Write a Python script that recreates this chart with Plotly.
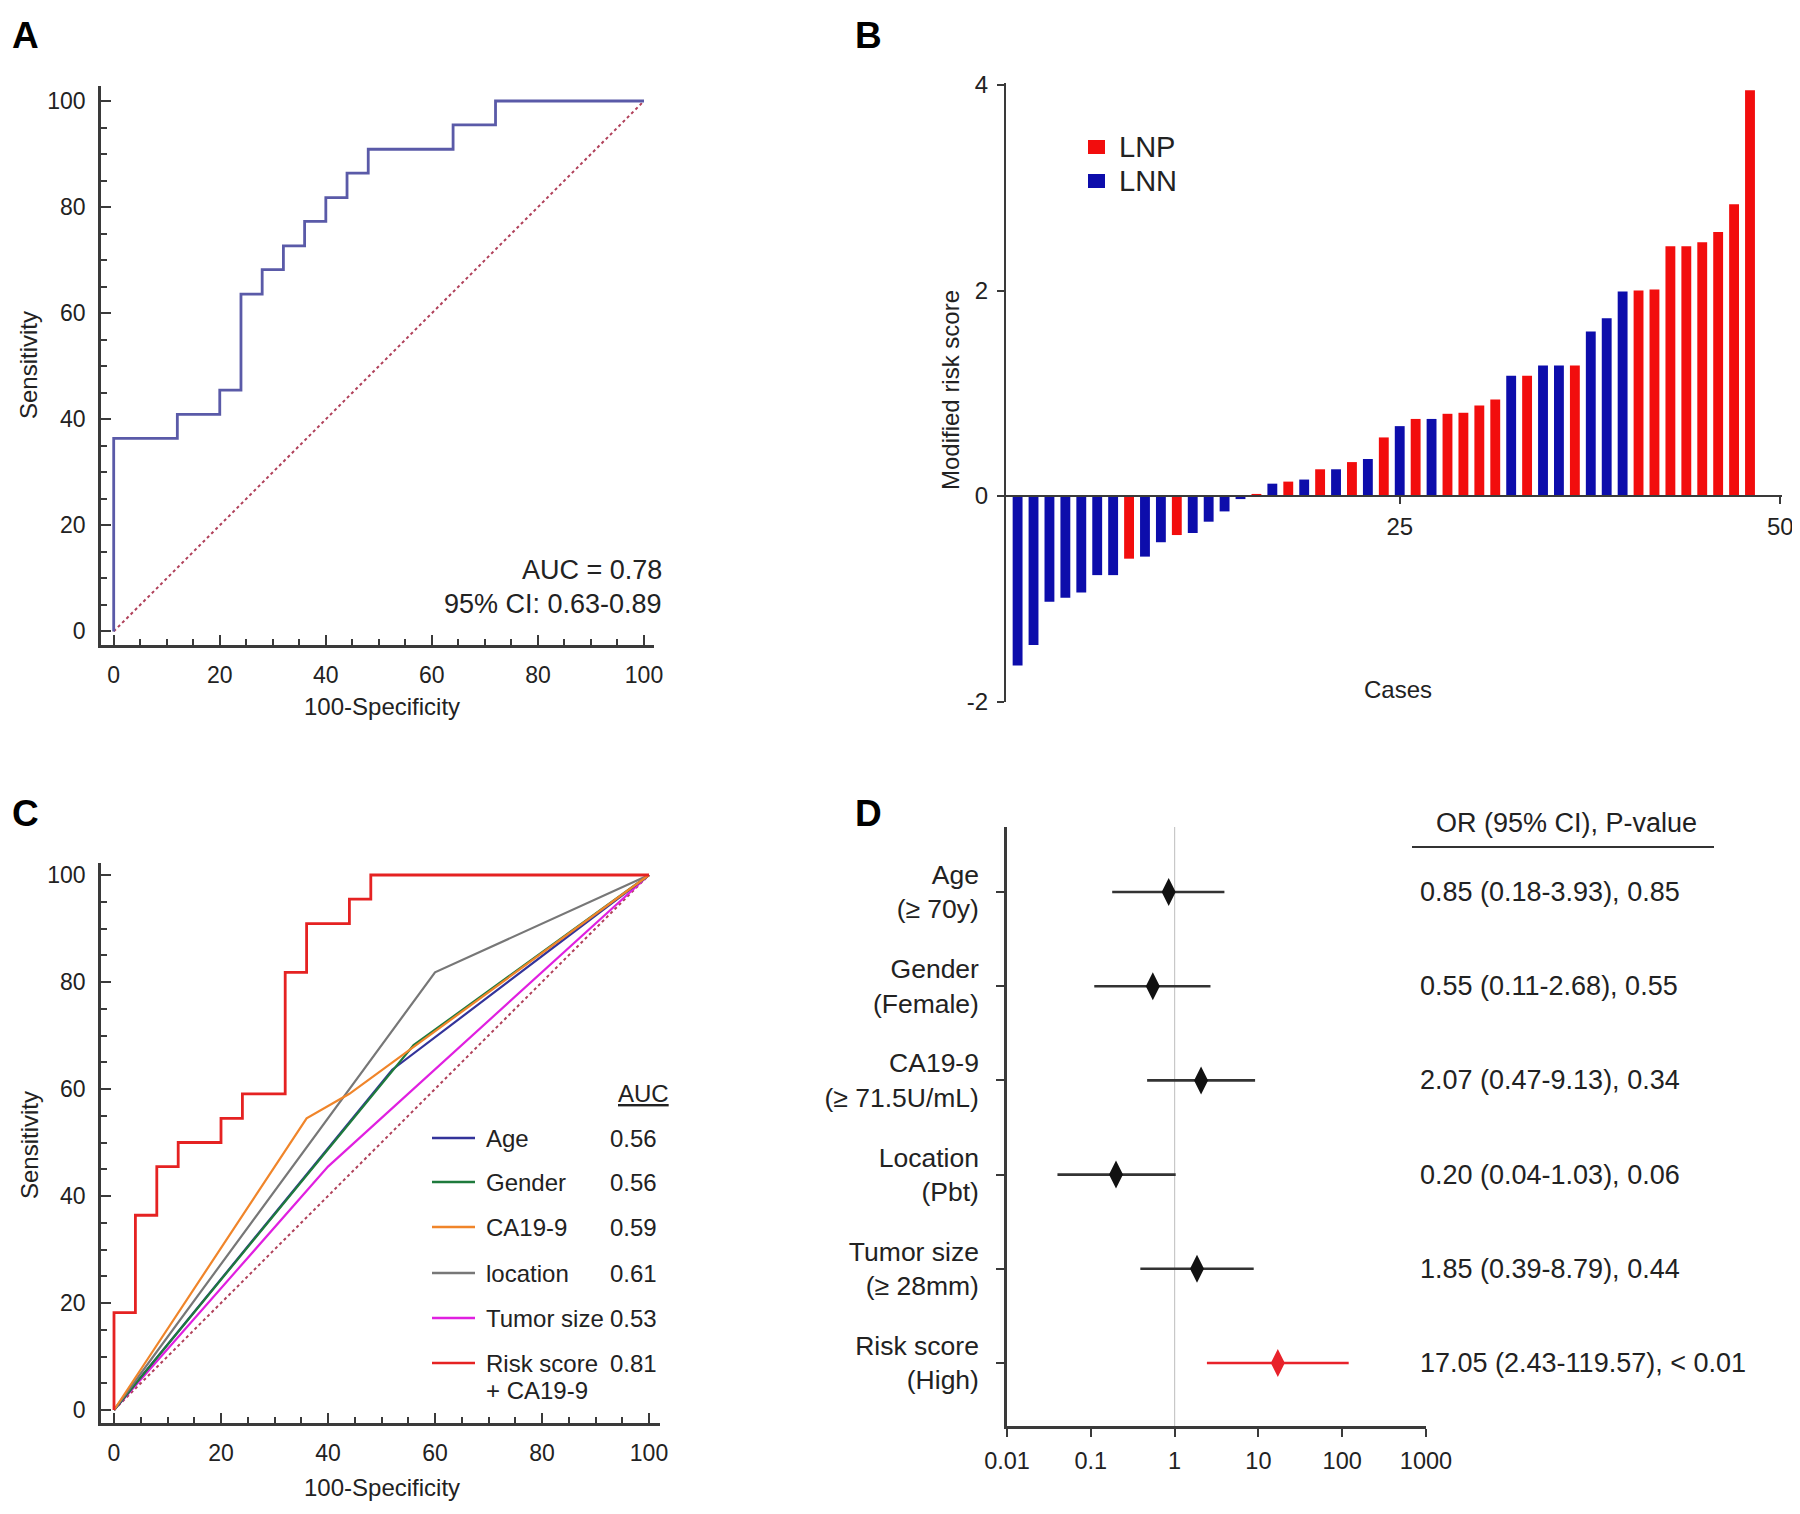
import plotly.graph_objects as go

# ---------------- data ----------------
# Panel A: ROC of risk score
roc_a_fpr = [0, 0, 12, 20, 24, 28, 32, 36, 40, 44, 48, 64, 72, 100]
roc_a_sens = [0, 36.4, 40.9, 45.5, 63.6, 68.2, 72.7, 77.3, 81.8, 86.4, 90.9, 95.5, 100, 100]
auc_a_text = ["AUC = 0.78", "95% CI: 0.63-0.89"]

# Panel B: waterfall of modified risk score
case_idx = list(range(1, 48))
risk_score = [-1.65, -1.45, -1.03, -0.99, -0.94, -0.77, -0.77, -0.61, -0.59, -0.45,
              -0.38, -0.36, -0.25, -0.15, -0.03, 0.02, 0.12, 0.14, 0.16, 0.26,
              0.26, 0.33, 0.36, 0.57, 0.68, 0.75, 0.75, 0.80, 0.81, 0.88,
              0.94, 1.17, 1.17, 1.27, 1.27, 1.27, 1.60, 1.73, 1.99, 2.00,
              2.01, 2.43, 2.43, 2.47, 2.57, 2.84, 3.95]
node_status = ["LNN", "LNN", "LNN", "LNN", "LNN", "LNN", "LNN", "LNP", "LNN", "LNN",
               "LNP", "LNN", "LNN", "LNN", "LNN", "LNP", "LNN", "LNP", "LNN", "LNP",
               "LNN", "LNP", "LNN", "LNP", "LNN", "LNP", "LNN", "LNP", "LNP", "LNP",
               "LNP", "LNN", "LNP", "LNN", "LNN", "LNP", "LNN", "LNN", "LNN", "LNP",
               "LNP", "LNP", "LNP", "LNP", "LNP", "LNP", "LNP"]
b_groups = ["LNP", "LNN"]
b_yticks = [-2, 0, 2, 4]
b_yticklabels = ["-2", "0", "2", "4"]
b_xticks = [25, 48.9]
b_xticklabels = ["25", "50"]

# Panel C: ROC curves of each factor
c_names = ["Age", "Gender", "CA19-9", "location", "Tumor size", "Risk score"]
c_auc = ["0.56", "0.56", "0.59", "0.61", "0.53", "0.81"]
age_fpr, age_sens = [0, 52, 100], [0, 63.6, 100]
gender_fpr, gender_sens = [0, 56, 100], [0, 68.2, 100]
ca199_fpr, ca199_sens = [0, 36, 44, 100], [0, 54.5, 59.1, 100]
location_fpr, location_sens = [0, 60, 100], [0, 81.8, 100]
tumor_fpr, tumor_sens = [0, 40, 100], [0, 45.5, 100]
risk_fpr = [0, 0, 4, 8, 12, 20, 24, 32, 36, 44, 48, 100]
risk_sens = [0, 18.2, 36.4, 45.5, 50, 54.5, 59.1, 81.8, 90.9, 95.5, 100, 100]

# Panel D: forest plot
d_labels = ["Age<br>(≥ 70y)", "Gender<br>(Female)", "CA19-9<br>(≥ 71.5U/mL)",
            "Location<br>(Pbt)", "Tumor size<br>(≥ 28mm)", "Risk score<br>(High)"]
d_or = [0.85, 0.55, 2.07, 0.20, 1.85, 17.05]
d_lo = [0.18, 0.11, 0.47, 0.04, 0.39, 2.43]
d_hi = [3.93, 2.68, 9.13, 1.03, 8.79, 119.57]
d_p = ["0.85", "0.55", "0.34", "0.06", "0.44", "< 0.01"]
d_xticks = [0.01, 0.1, 1, 10, 100, 1000]
d_xticklabels = ["0.01", "0.1", "1", "10", "100", "1000"]

# ---------------- helpers (layout geometry in page pixels) ----------------
W, H = 1800, 1514
OFF = 8  # page body margin
FONT = "Liberation Sans, Arial, sans-serif"
TXT = "#222222"
AX = "#3a3a3a"


def fx(px):
    return (px - OFF) / W


def fy(py):
    return 1 - (py - OFF) / H


def lin_range(p0, v0, p1, v1, e0, e1):
    s = (v1 - v0) / (p1 - p0)
    return [v0 + (e0 - p0) * s, v0 + (e1 - p0) * s]


fig = go.Figure()

# ---------------- Panel A ----------------
fig.add_trace(go.Scatter(x=[0, 100], y=[0, 100], mode="lines", xaxis="x", yaxis="y",
                         line=dict(color="#b0405a", width=2, dash="dot"), showlegend=False))
fig.add_trace(go.Scatter(x=roc_a_fpr, y=roc_a_sens, mode="lines", xaxis="x", yaxis="y",
                         line=dict(color="#5a5aa8", width=2.8, shape="hv"), showlegend=False))

# ---------------- Panel B ----------------
b_colors = {"LNP": "#f20d0d", "LNN": "#0d0dab"}
for grp in b_groups:
    xs = [c for c, g in zip(case_idx, node_status) if g == grp]
    ys = [v for v, g in zip(risk_score, node_status) if g == grp]
    fig.add_trace(go.Bar(x=xs, y=ys, name=grp, xaxis="x2", yaxis="y2", width=0.62,
                         marker=dict(color=b_colors[grp], line=dict(width=0)), showlegend=False))

# ---------------- Panel C ----------------
c_colors = ["#33339a", "#1e7a3c", "#f0852a", "#777777", "#e020e0", "#e52222"]
fig.add_trace(go.Scatter(x=[0, 100], y=[0, 100], mode="lines", xaxis="x3", yaxis="y3",
                         line=dict(color="#b0405a", width=2, dash="dot"), showlegend=False))
c_curves = [(tumor_fpr, tumor_sens, 4), (age_fpr, age_sens, 0), (gender_fpr, gender_sens, 1),
            (location_fpr, location_sens, 3), (ca199_fpr, ca199_sens, 2)]
for fxs, fys, ci in c_curves:
    fig.add_trace(go.Scatter(x=fxs, y=fys, mode="lines", xaxis="x3", yaxis="y3",
                             line=dict(color=c_colors[ci], width=2.2), showlegend=False))
fig.add_trace(go.Scatter(x=risk_fpr, y=risk_sens, mode="lines", xaxis="x3", yaxis="y3",
                         line=dict(color=c_colors[5], width=2.8, shape="hv"), showlegend=False))

# ---------------- Panel D ----------------
d_colors = ["#111111"] * 5 + ["#e8222a"]
for i in range(len(d_labels)):
    fig.add_trace(go.Scatter(
        x=[d_or[i]], y=[d_labels[i]], mode="markers", xaxis="x4", yaxis="y4",
        marker=dict(symbol="diamond-tall", size=20, color=d_colors[i]),
        error_x=dict(type="data", symmetric=False, array=[d_hi[i] - d_or[i]],
                     arrayminus=[d_or[i] - d_lo[i]], width=0, thickness=2.6,
                     color="#333333" if i < 5 else "#e8222a"),
        showlegend=False))

# ---------------- axes ----------------
common = dict(showgrid=False, zeroline=False, showline=True, linecolor=AX, automargin=False,
              tickcolor=AX, tickfont=dict(family=FONT, size=23, color=TXT))

# A
ax_x = lin_range(113.7, 0, 644, 100, 101, 654)
ax_y = lin_range(631.4, 0, 101, 100, 645, 86)
roc_axis = dict(common, linewidth=2.5, ticks="inside", ticklen=10, tickwidth=2,
                tick0=0, dtick=20, ticklabelstandoff=8,
                minor=dict(dtick=5, tick0=0, ticks="inside", ticklen=6, tickwidth=2, tickcolor=AX))
fig.update_layout(
    xaxis=dict(roc_axis, domain=[fx(101), fx(654)], range=ax_x, anchor="y"),
    yaxis=dict(roc_axis, domain=[fy(645), fy(86)], range=ax_y, anchor="x"),
)

# B
bx = lin_range(1017.6, 1, 1750, 47, 1006, 1782)
by = lin_range(496, 0, 85, 4, 702, 83)
fig.update_layout(
    xaxis2=dict(common, domain=[fx(1006), fx(1782)], range=bx, anchor="free", position=fy(496),
                linewidth=2, ticks="outside", ticklen=7, tickwidth=2,
                tickvals=b_xticks, ticktext=b_xticklabels, ticklabelstandoff=2,
                tickfont=dict(family=FONT, size=24, color=TXT)),
    yaxis2=dict(common, domain=[fy(702), fy(83)], range=by, anchor="x2",
                linewidth=2, ticks="outside", ticklen=7, tickwidth=2,
                tickvals=b_yticks, ticktext=b_yticklabels, ticklabelstandoff=4,
                tickfont=dict(family=FONT, size=24, color=TXT)),
    barmode="overlay",
)

# C
cx = lin_range(114, 0, 649, 100, 101, 660)
cy = lin_range(1410, 0, 875, 100, 1423, 863)
fig.update_layout(
    xaxis3=dict(roc_axis, domain=[fx(101), fx(660)], range=cx, anchor="y3"),
    yaxis3=dict(roc_axis, domain=[fy(1423), fy(863)], range=cy, anchor="x3"),
)

# D
dy = lin_range(892, 0, 1363, 5, 1426, 827)
fig.update_layout(
    xaxis4=dict(common, type="log", domain=[fx(1007), fx(1426)], range=[-2, 3], anchor="y4",
                linewidth=2.5, ticks="outside", ticklen=8, tickwidth=2,
                tickvals=d_xticks, ticktext=d_xticklabels, ticklabelstandoff=4,
                tickfont=dict(family=FONT, size=23.5, color=TXT)),
    yaxis4=dict(common, type="category", categoryorder="array", categoryarray=d_labels,
                domain=[fy(1426), fy(827)], range=dy, anchor="x4",
                linewidth=2.5, ticks="outside", ticklen=8, tickwidth=2, ticklabelstandoff=12,
                tickfont=dict(family=FONT, size=26.5, color=TXT)),
)

# ---------------- annotations & shapes ----------------
ann = []
shapes = []


def text(x, y, s, size, xanchor="center", yanchor="middle", angle=0, bold=False):
    ann.append(dict(x=fx(x), y=fy(y), xref="paper", yref="paper", text=("<b>%s</b>" % s) if bold else s,
                    showarrow=False, xanchor=xanchor, yanchor=yanchor, textangle=angle,
                    font=dict(family=FONT, size=size, color="#000000" if bold else TXT)))


# panel letters
text(10, 35, "A", 37, "left", bold=True)
text(853, 35, "B", 37, "left", bold=True)
text(10, 813, "C", 37, "left", bold=True)
text(853, 813, "D", 37, "left", bold=True)

# axis titles
text(29, 365, "Sensitivity", 24, angle=-90)
text(382, 706, "100-Specificity", 24)
text(29, 1145, "Sensitivity", 24, angle=-90)
text(382, 1487, "100-Specificity", 24)
text(950, 390, "Modified risk score", 24, angle=-90)
text(1398, 689, "Cases", 24)

# panel A AUC text
text(664, 570, auc_a_text[0], 27, "right")
text(664, 604, auc_a_text[1], 27, "right")

# panel B legend
b_leg_y = [147, 181]
for grp, ly in zip(b_groups, b_leg_y):
    shapes.append(dict(type="rect", xref="paper", yref="paper", x0=fx(1088), x1=fx(1105),
                       y0=fy(ly + 7), y1=fy(ly - 7), fillcolor=b_colors[grp], line=dict(width=0)))
    text(1117, ly, grp, 29, "left")

# panel C legend table
text(643, 1093, "<u>AUC</u>", 24)
row_y = [1138, 1182, 1227, 1273, 1318, 1363]
for i, nm in enumerate(c_names):
    shapes.append(dict(type="line", xref="paper", yref="paper", x0=fx(432), x1=fx(475),
                       y0=fy(row_y[i]), y1=fy(row_y[i]), line=dict(color=c_colors[i], width=2.5)))
    text(484, row_y[i], nm, 24, "left")
    text(608, row_y[i], c_auc[i], 24, "left")
text(484, 1390, "+ CA19-9", 24, "left")

# panel D OR text
text(1566, 823, "OR (95% CI), P-value", 27)
shapes.append(dict(type="line", xref="paper", yref="paper", x0=fx(1412), x1=fx(1714),
                   y0=fy(847), y1=fy(847), line=dict(color="#333333", width=2)))
for i, lab in enumerate(d_labels):
    ann.append(dict(x=fx(1418), y=lab, xref="paper", yref="y4", showarrow=False,
                    xanchor="left", yanchor="middle",
                    text="%.2f (%.2f-%.2f), %s" % (d_or[i], d_lo[i], d_hi[i], d_p[i]),
                    font=dict(family=FONT, size=27, color=TXT)))
shapes.append(dict(type="line", xref="x4", yref="y4 domain", x0=1, x1=1, y0=0, y1=1,
                   line=dict(color="#c8c8c8", width=1.2), layer="below"))

fig.update_layout(
    width=W, height=H, margin=dict(l=0, r=0, t=0, b=0, autoexpand=False),
    paper_bgcolor="white", plot_bgcolor="white",
    annotations=ann, shapes=shapes, showlegend=False,
    font=dict(family=FONT, color=TXT),
)

fig.write_html("out.html")
